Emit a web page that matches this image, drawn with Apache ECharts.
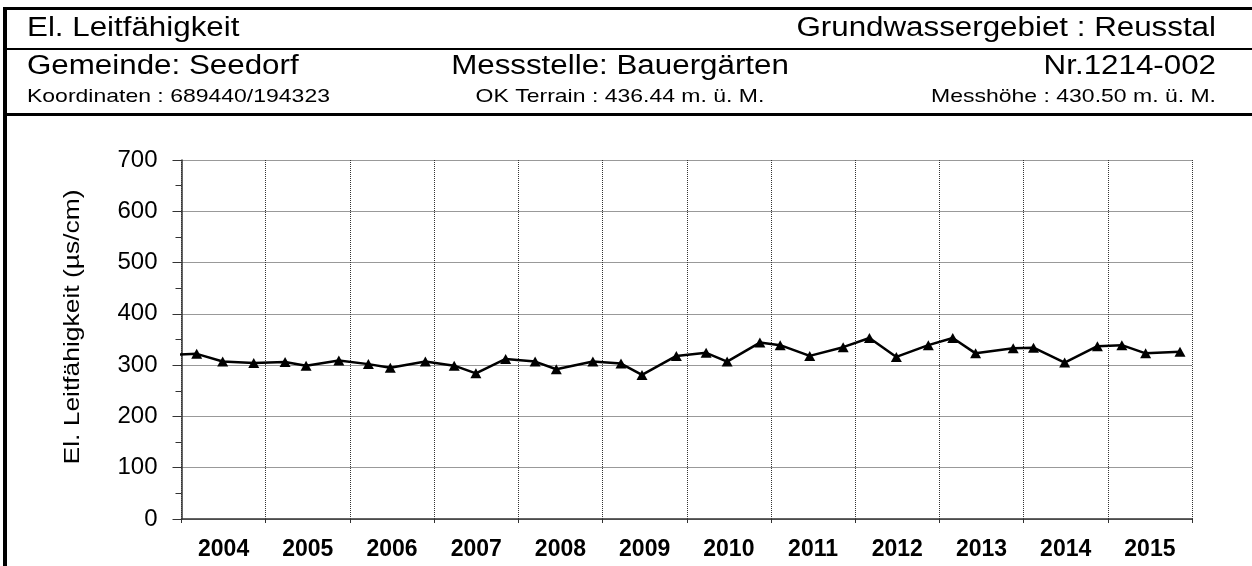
<!DOCTYPE html>
<html>
<head>
<meta charset="utf-8">
<title>El. Leitfähigkeit – Seedorf, Bauergärten</title>
<script src="https://cdn.jsdelivr.net/npm/echarts@6/dist/echarts.min.js"></script>
<style>
  html, body { margin: 0; padding: 0; background: #fff; }
  #chart { width: 1252px; height: 566px; }
</style>
</head>
<body>
<div id="chart"></div>
<script>
// Sampling dates (three samples a year) and measured conductivity in µS/cm
const sampleDates = [
  '2003-11-10',
  '2004-03-07', '2004-06-28', '2004-11-10',
  '2005-03-26', '2005-06-25', '2005-11-14',
  '2006-03-22', '2006-06-25', '2006-11-24',
  '2007-03-29', '2007-07-01', '2007-11-07',
  '2008-03-14', '2008-06-14', '2008-11-20',
  '2009-03-22', '2009-06-21', '2009-11-17',
  '2010-03-26', '2010-06-25', '2010-11-14',
  '2011-02-10', '2011-06-18', '2011-11-10',
  '2012-03-03', '2012-06-28', '2012-11-14',
  '2013-02-28', '2013-06-07', '2013-11-17',
  '2014-02-13', '2014-06-28', '2014-11-17',
  '2015-03-03', '2015-06-14', '2015-11-10'
];
const conductivity = [
  320,
  322, 307, 304,
  306, 299, 309,
  302, 295, 307,
  299, 284, 312,
  307, 292, 307,
  303, 281, 318,
  324, 307, 344,
  339, 318, 335,
  353, 316, 339,
  353, 323, 333,
  334, 305, 337,
  339, 323, 326
];
const yearLabels = ['2004', '2005', '2006', '2007', '2008', '2009',
                    '2010', '2011', '2012', '2013', '2014', '2015'];
const yTicks = { min: 0, max: 700, step: 100 };

// Header texts
const headerTitle = 'El. Leitfähigkeit';
const headerRegion = 'Grundwassergebiet : Reusstal';
const headerCommune = 'Gemeinde: Seedorf';
const headerStation = 'Messstelle: Bauergärten';
const headerNumber = 'Nr.1214-002';
const headerCoords = 'Koordinaten : 689440/194323';
const headerTerrain = 'OK Terrain : 436.44 m. ü. M.';
const headerHeight = 'Messhöhe : 430.50 m. ü. M.';
const yAxisTitle = 'El. Leitfähigkeit (µs/cm)';

// Date string -> fractional year, so the x axis can run in whole years
function toYear(s) {
  const [y, m, d] = s.split('-').map(Number);
  const start = Date.UTC(y, 0, 1);
  const end = Date.UTC(y + 1, 0, 1);
  return y + (Date.UTC(y, m - 1, d) - start) / (end - start);
}

const seriesData = sampleDates.map((d, i) => [toYear(d), conductivity[i]]);

const FONT = '"Liberation Sans", Arial, Helvetica, sans-serif';
const W = 1252, H = 566;

function headerText(text, x, y, size, align, sx) {
  return {
    type: 'text', x: x, y: y, scaleX: sx, scaleY: 1, silent: true,
    style: {
      text: text, x: 0, y: 0, fill: '#000',
      font: size + 'px ' + FONT,
      textAlign: align, textVerticalAlign: 'middle'
    }
  };
}

const chart = echarts.init(document.getElementById('chart'), null, { renderer: 'canvas' });

chart.setOption({
  animation: false,
  backgroundColor: '#fff',
  textStyle: { fontFamily: FONT },
  grid: { left: 181.5, right: W - 1192, top: 160, bottom: H - 519, containLabel: false },
  graphic: [
    // frame lines of the header block
    { type: 'rect', shape: { x: 3, y: 7, width: W - 3, height: 3 }, style: { fill: '#000' }, silent: true },
    { type: 'rect', shape: { x: 3, y: 7, width: 4, height: H - 7 }, style: { fill: '#000' }, silent: true },
    { type: 'rect', shape: { x: 3, y: 48, width: W - 3, height: 2 }, style: { fill: '#000' }, silent: true },
    { type: 'rect', shape: { x: 3, y: 113, width: W - 3, height: 3 }, style: { fill: '#000' }, silent: true },
    headerText(headerTitle, 27, 29, 27, 'left', 1.16),
    headerText(headerRegion, 1216, 29, 27, 'right', 1.16),
    headerText(headerCommune, 27, 67, 27, 'left', 1.16),
    headerText(headerStation, 620, 67, 27, 'center', 1.16),
    headerText(headerNumber, 1216, 67, 27, 'right', 1.16),
    headerText(headerCoords, 27, 97, 19, 'left', 1.21),
    headerText(headerTerrain, 620, 97, 19, 'center', 1.21),
    headerText(headerHeight, 1216, 97, 19, 'right', 1.21),
    {
      type: 'text', x: 73, y: 327, rotation: Math.PI / 2, scaleX: 1.2, silent: true,
      style: {
        text: yAxisTitle, x: 0, y: 0, fill: '#000',
        font: '22px ' + FONT, textAlign: 'center', textVerticalAlign: 'middle'
      }
    }
  ],
  xAxis: [
    {
      type: 'value', min: 2004, max: 2016, interval: 1,
      axisLine: { show: true, onZero: false, lineStyle: { color: '#333', width: 1.5 } },
      axisTick: { show: true, inside: false, length: 4, lineStyle: { color: '#333', width: 1 } },
      axisLabel: { show: false },
      splitLine: { show: true, lineStyle: { color: '#333', type: 'dotted', width: 1 } }
    },
    {
      type: 'category', data: yearLabels, position: 'bottom', boundaryGap: true,
      axisLine: { show: false }, axisTick: { show: false }, splitLine: { show: false },
      axisLabel: { show: true, color: '#000', fontSize: 23, fontWeight: 'bold', fontFamily: FONT, margin: 19 }
    }
  ],
  yAxis: {
    type: 'value', min: yTicks.min, max: yTicks.max, interval: yTicks.step,
    axisLine: { show: true, lineStyle: { color: '#333', width: 1.5 } },
    axisTick: { show: true, inside: false, length: 9, lineStyle: { color: '#333', width: 1 } },
    minorTick: { show: true, splitNumber: 2, length: 6, lineStyle: { color: '#333', width: 1 } },
    axisLabel: { color: '#000', fontSize: 24, fontFamily: FONT, margin: 24 },
    splitLine: { show: true, lineStyle: { color: '#333', type: 'dotted', width: 1 } }
  },
  series: [
    {
      type: 'line', xAxisIndex: 0, yAxisIndex: 0,
      data: seriesData,
      clip: true,
      symbol: 'triangle', symbolSize: [11, 10], showAllSymbol: true,
      lineStyle: { color: '#000', width: 2.5 },
      itemStyle: { color: '#000' },
      emphasis: { disabled: true }
    }
  ]
});
</script>
</body>
</html>
